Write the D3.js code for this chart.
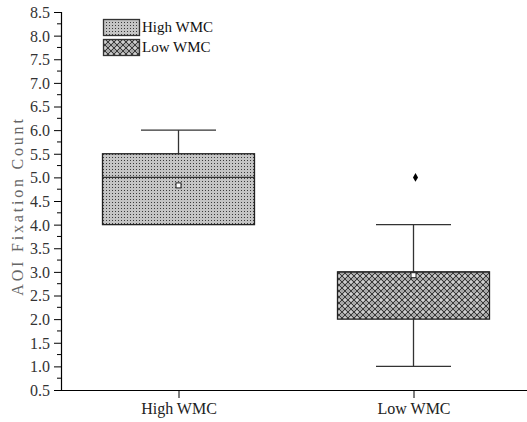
<!DOCTYPE html>
<html><head><meta charset="utf-8">
<script src="https://cdn.jsdelivr.net/npm/d3@7"></script>
<style>body{margin:0;background:#fff}svg{display:block}
text{font-family:"Liberation Serif","Times New Roman",serif !important;}</style>
</head><body>
<script>
const categories = ["High WMC", "Low WMC"];
const q1 = [4.0, 2.0];
const median = [5.0, 3.0];
const q3 = [5.5, 3.0];
const whiskerLow = [4.0, 1.0];
const whiskerHigh = [6.0, 4.0];
const means = [4.83, 2.93];
const outliers = [[], [5.0]];
const yTicks = [0.5,1.0,1.5,2.0,2.5,3.0,3.5,4.0,4.5,5.0,5.5,6.0,6.5,7.0,7.5,8.0,8.5];
const yLabel = "AOI Fixation Count";

const W = 527, H = 422;
const svg = d3.select("body").append("svg").attr("width", W).attr("height", H);
const defs = svg.append("defs");
const p1 = defs.append("pattern").attr("id","dots").attr("patternUnits","userSpaceOnUse").attr("width",3).attr("height",3);
p1.append("rect").attr("width",3).attr("height",3).attr("fill","#c4c4c4");
p1.append("rect").attr("x",1).attr("y",1).attr("width",1).attr("height",1).attr("fill","#3a3a3a");
const p2 = defs.append("pattern").attr("id","cross").attr("patternUnits","userSpaceOnUse").attr("width",6).attr("height",6);
p2.append("rect").attr("width",6).attr("height",6).attr("fill","#a8a8a8");
p2.append("path").attr("d","M0,0L6,6M6,0L0,6").attr("stroke","#3a3a3a").attr("stroke-width",1);
p2.append("circle").attr("cx",3).attr("cy",0).attr("r",1.3).attr("fill","#d0d0d0");
p2.append("circle").attr("cx",3).attr("cy",6).attr("r",1.3).attr("fill","#d0d0d0");
const fills = ["url(#dots)", "url(#cross)"];

const x0 = 61, x1 = 527, yTop = 12, yBot = 390;
const y = d3.scaleLinear().domain([0.5, 8.5]).range([yBot, yTop]);
const x = d3.scalePoint().domain(categories).range([x0, x1+4]).padding(0.5);
const boxW = 152, capW = 75;

const yAxis = d3.axisLeft(y).tickValues(yTicks).tickFormat(d3.format(".1f")).tickSize(7).tickPadding(4);
const gy = svg.append("g").attr("transform",`translate(${x0},0)`).call(yAxis);
gy.select(".domain").attr("stroke","#000").attr("stroke-width",1.2);
gy.selectAll("text").style("font-size","16px").attr("fill","#333").attr("dy","0.34em");
const minor = d3.range(0.75, 8.5, 0.5);
svg.append("g").selectAll("line").data(minor).join("line")
  .attr("x1",x0-4).attr("x2",x0).attr("y1",d=>y(d)).attr("y2",d=>y(d)).attr("stroke","#000");

const xAxis = d3.axisBottom(x).tickSize(8).tickPadding(5);
const gx = svg.append("g").attr("transform",`translate(0,${yBot})`).call(xAxis);
gx.select(".domain").attr("d",`M${x0},0.5H${x1}`).attr("stroke","#000").attr("stroke-width",1.2);
gx.selectAll("text").style("font-size","16px").attr("fill","#222");

const g = svg.append("g");
categories.forEach((c,i)=>{
  const cx = x(c);
  g.append("line").attr("x1",cx).attr("x2",cx).attr("y1",y(q3[i])).attr("y2",y(whiskerHigh[i])).attr("stroke","#333").attr("stroke-width",1.3);
  g.append("line").attr("x1",cx-capW/2).attr("x2",cx+capW/2).attr("y1",y(whiskerHigh[i])).attr("y2",y(whiskerHigh[i])).attr("stroke","#333").attr("stroke-width",1.3);
  g.append("line").attr("x1",cx).attr("x2",cx).attr("y1",y(q1[i])).attr("y2",y(whiskerLow[i])).attr("stroke","#333").attr("stroke-width",1.3);
  if (whiskerLow[i] < q1[i])
    g.append("line").attr("x1",cx-capW/2).attr("x2",cx+capW/2).attr("y1",y(whiskerLow[i])).attr("y2",y(whiskerLow[i])).attr("stroke","#333").attr("stroke-width",1.3);
  g.append("rect").attr("x",cx-boxW/2).attr("y",y(q3[i])).attr("width",boxW).attr("height",y(q1[i])-y(q3[i]))
    .attr("fill",fills[i]).attr("stroke","#222").attr("stroke-width",1.3);
  g.append("line").attr("x1",cx-boxW/2).attr("x2",cx+boxW/2).attr("y1",y(median[i])).attr("y2",y(median[i])).attr("stroke","#333").attr("stroke-width",1.3);
  g.append("rect").attr("x",cx-2.5).attr("y",y(means[i])-2.5).attr("width",5).attr("height",5).attr("fill","#fff").attr("stroke","#222").attr("stroke-width",1);
  outliers[i].forEach(v=>{
    g.append("path").attr("d",d3.symbol(d3.symbolDiamond,22)()).attr("transform",`translate(${cx+2},${y(v)})`).attr("fill","#000");
  });
});

svg.append("text").attr("transform",`translate(23,${206}) rotate(-90)`)
  .attr("text-anchor","middle").style("font-size","16px")
  .attr("letter-spacing",2.8).attr("fill","#666").text(yLabel);

const lg = svg.append("g");
categories.forEach((c,i)=>{
  const ly = 19 + i*20;
  lg.append("rect").attr("x",103.5).attr("y",ly+0.5).attr("width",36).attr("height",16).attr("fill",fills[i]).attr("stroke","#333").attr("stroke-width",1.3);
  lg.append("text").attr("x",142).attr("y",ly+13).style("font-size","15px").attr("fill","#111").text(c);
});
</script>
</body></html>
